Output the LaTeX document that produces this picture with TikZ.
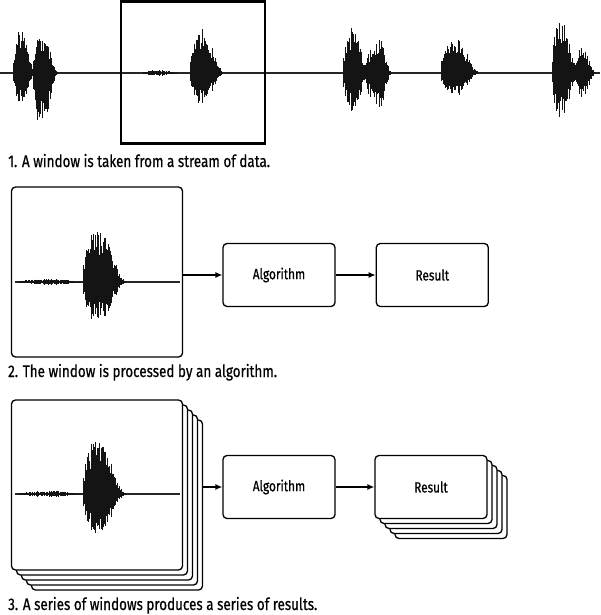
\documentclass[tikz,border=0pt]{standalone}
\usepackage{fontspec}
\setmainfont[FakeStretch=0.8,FakeBold=0.6]{Fira Sans}
\usetikzlibrary{arrows.meta,positioning}

\newcommand{\burst}[6]{%
 \pgfmathtruncatemacro{\nsteps}{(#3-#1)/0.4}
 \foreach \i in {0,...,\nsteps}{
   \pgfmathsetmacro{\xv}{#1+0.4*\i}
   \pgfmathsetmacro{\dd}{(\xv-#2)/ifthenelse(\xv<#2,(#2-#1)/1.0,(#3-#2)/1.4)}
   \pgfmathsetmacro{\ee}{exp(-\dd*\dd*(0.6+0.6*\dd*\dd))}
   \pgfmathsetmacro{\rr}{rnd}
   \pgfmathsetmacro{\up}{\ee*(0.48+0.52*\rr*\rr)*(#6-#4)}
   \pgfmathsetmacro{\dn}{\ee*(0.48+0.52*\rr*\rr)*(#5-#6)*(0.85+0.15*rnd)}
   \draw[wave] (\xv,{#6-\up}) -- (\xv,{#6+\dn});
 }}

\begin{document}
\begin{tikzpicture}[x=1pt,y=-1pt,
 wave/.style={line width=0.7pt,black!92},
 baseln/.style={line width=1.1pt,black!85},
 win/.style={draw,line width=2.2pt,minimum width=144pt,minimum height=142pt,inner sep=0pt},
 frame/.style={draw,fill=white,line width=1.3pt,rounded corners=4pt,minimum width=171pt,minimum height=170pt,inner sep=0pt},
 box/.style={draw,fill=white,line width=1.3pt,rounded corners=4pt,minimum width=112pt,minimum height=63pt,font=\fontsize{14.8}{16}\selectfont},
 caption/.style={anchor=base west,inner sep=0pt,font=\fontsize{16.8}{18}\selectfont},
 arr/.style={-{Latex[length=7pt,width=6pt]},line width=1.3pt}]
\useasboundingbox (0,0) rectangle (600,615);
\pgfmathsetseed{11}
\draw[baseln] (0,73) -- (600,73);
\burst{13}{21}{34}{26}{110}{73}
\burst{33}{42}{57}{33}{130}{73}
\burst{143}{160}{177}{70}{76}{73}
\burst{190}{200}{223}{28}{108}{73}
\burst{343}{352}{368}{27}{117}{73}
\burst{366}{378}{391}{38}{112}{73}
\burst{441}{452}{478}{35}{100}{73}
\burst{552}{559}{578}{18}{122}{73}
\burst{575}{582}{595}{48}{98}{73}
\node[win] (win1) at (193,72.5) {};
\node[caption] (cap1) at (8,167) {1. A window is taken from a stream of data.};

\node[frame] (frame2) at (97,272) {};
\draw[baseln] (15,282) -- (180,282);
\burst{18}{55}{80}{279}{285}{282}
\burst{83}{95}{125}{227}{325}{282}
\node[box] (alg2) at (279,275) {Algorithm};
\node[box,right=40pt of alg2] (res2) {Result};
\draw[arr] (frame2.east |- alg2.west) -- (alg2.west);
\draw[arr] (alg2) -- (res2);
\node[caption] (cap2) at (8,377) {2. The window is processed by an algorithm.};

\foreach \k in {4,3,2,1}
  \node[frame] (stack\k) at (97+5*\k,485+5*\k) {};
\node[frame] (frame3) at (97,485) {};
\draw[baseln] (15,494) -- (180,494);
\burst{18}{55}{80}{491}{497}{494}
\burst{83}{95}{125}{440}{537}{494}
\node[box] (alg3) at (279,487) {Algorithm};
\foreach \k in {4,3,2,1}
  \node[box] (rstack\k) at (431+5*\k,487+5*\k) {};
\node[box] (res3) at (431,487) {Result};
\draw[arr] (stack4.east |- alg3.west) -- (alg3.west);
\draw[arr] (alg3) -- (res3);
\node[caption] (cap3) at (8,610) {3. A series of windows produces a series of results.};
\end{tikzpicture}
\end{document}
